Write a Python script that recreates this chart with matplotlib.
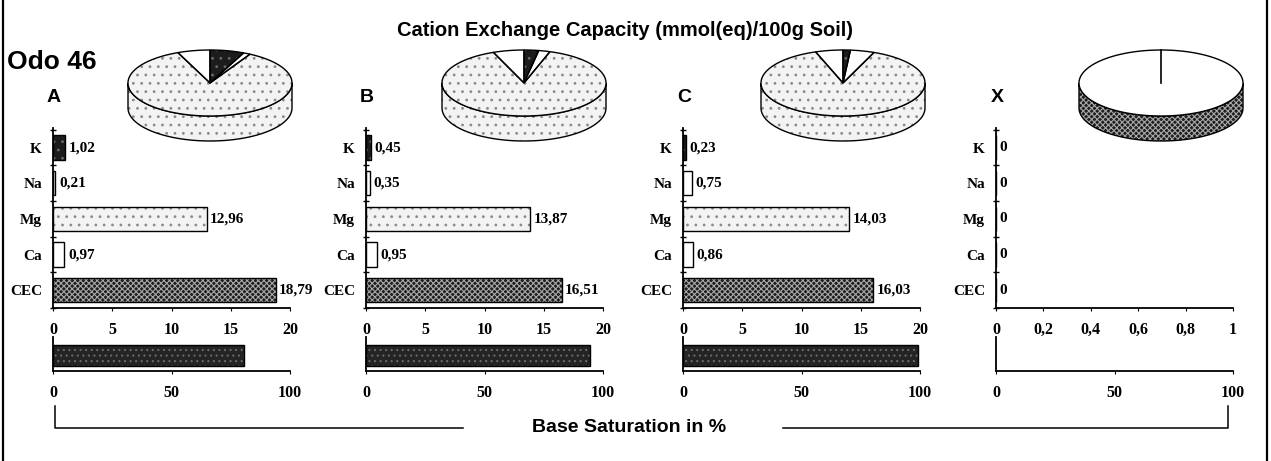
import numpy as np
import matplotlib.pyplot as plt
from matplotlib.patches import Polygon
from matplotlib.lines import Line2D

W, H = 1271, 461

# cation values per sample (mmol(eq)/100g soil)
panels = ['A', 'B', 'C', 'X']
cations = ['K', 'Na', 'Mg', 'Ca', 'CEC']
k_vals = [1.02, 0.45, 0.23, 0]
na_vals = [0.21, 0.35, 0.75, 0]
mg_vals = [12.96, 13.87, 14.03, 0]
ca_vals = [0.97, 0.95, 0.86, 0]
cec_vals = [18.79, 16.51, 16.03, 0]
base_sat = [80.7, 94.6, 99.0, 0]          # base saturation in %
x_max = [20, 20, 20, 1]
x_ticks = [[0, 5, 10, 15, 20]] * 3 + [[0, 0.2, 0.4, 0.6, 0.8, 1]]

# fill styles: face colour, hatch, hatch colour
styles = {
    'K':   ('#1c1c1c', '..', '#6a6a6a'),
    'Na':  ('white', None, 'black'),
    'Mg':  ('#f3f3f3', '..', '#8a8a8a'),
    'Ca':  ('white', None, 'black'),
    'CEC': ('#1e1e1e', 'xxxxxx', '#a8a8a8'),
    'BS':  ('#242424', '...', '#6a6a6a'),
}

serif = {'family': 'Liberation Serif', 'weight': 'bold'}
sans = {'family': 'Liberation Sans', 'weight': 'bold'}
plt.rcParams['hatch.linewidth'] = 0.8

lefts = [53, 366, 683, 996]
pie_cx = [210, 524, 843, 1161]
AX_W = 237


def px_axes(fig, x0, y0, x1, y1):
    # axes placed by pixel box (top-left origin)
    return fig.add_axes([x0 / W, 1 - y1 / H, (x1 - x0) / W, (y1 - y0) / H])


def fmt(v):
    if v == 0:
        return '0'
    return f'{v:.2f}'.replace('.', ',')


def tick_fmt(v):
    return f'{v:g}'.replace('.', ',')


def add_poly(ax, pts, key, z=2):
    fc, hatch, hc = styles[key]
    ax.add_patch(Polygon(pts, closed=True, facecolor=fc, hatch=hatch,
                         edgecolor=hc, linewidth=0, zorder=z))
    ax.add_patch(Polygon(pts, closed=True, fill=False, edgecolor='black',
                         linewidth=1.0, zorder=z + 0.5))


def draw_pie(ax, vals, names):
    rx, ry, d = 82, 33, 25
    total = sum(vals)
    t = np.linspace(90, 270, 80)
    if total == 0:
        # empty sample: plain top with hatched rim
        rad = np.radians(t)
        top = np.c_[rx * np.sin(rad), ry * np.cos(rad)]
        bot = np.c_[rx * np.sin(rad), ry * np.cos(rad) - d][::-1]
        add_poly(ax, np.vstack([top, bot]), 'CEC')
        full = np.radians(np.linspace(0, 360, 200))
        ax.add_patch(Polygon(np.c_[rx * np.sin(full), ry * np.cos(full)],
                             facecolor='white', edgecolor='black', lw=1.0, zorder=3))
        ax.plot([0, 0], [0, ry], color='black', lw=1.2, zorder=4)
        return
    bounds = np.concatenate([[0], np.cumsum(vals) / total * 360])
    for a, b, name in zip(bounds[:-1], bounds[1:], names):
        lo, hi = max(a, 90), min(b, 270)
        if hi > lo:
            rad = np.radians(np.linspace(lo, hi, 60))
            top = np.c_[rx * np.sin(rad), ry * np.cos(rad)]
            bot = np.c_[rx * np.sin(rad), ry * np.cos(rad) - d][::-1]
            add_poly(ax, np.vstack([top, bot]), name, z=2)
    for a, b, name in zip(bounds[:-1], bounds[1:], names):
        if b - a <= 0:
            continue
        rad = np.radians(np.linspace(a, b, max(int(b - a), 2) + 1))
        pts = np.vstack([[0, 0], np.c_[rx * np.sin(rad), ry * np.cos(rad)]])
        add_poly(ax, pts, name, z=4)


fig = plt.figure(figsize=(W / 100, H / 100), dpi=100)

# overlay for frame, headings and the base-saturation bracket
ov = fig.add_axes([0, 0, 1, 1], zorder=-1)
ov.set_xlim(0, W)
ov.set_ylim(H, 0)
ov.axis('off')
for x in (3, 1267):
    ov.add_line(Line2D([x, x], [0, H], color='black', lw=1.6))
ov.text(625, 30, 'Cation Exchange Capacity (mmol(eq)/100g Soil)', fontsize=14.5,
        ha='center', va='center', **sans)
ov.text(7, 62, 'Odo 46', fontsize=19, ha='left', va='center', **sans)
ov.text(629, 427, 'Base Saturation in %', fontsize=14, ha='center', va='center', **sans)
ov.add_line(Line2D([55, 55, 463], [406, 428, 428], color='black', lw=1.1))
ov.add_line(Line2D([783, 1228, 1228], [428, 428, 406], color='black', lw=1.1))

for i, p in enumerate(panels):
    x0 = lefts[i]
    ov.text(x0 + 1, 97, p, fontsize=14, ha='center', va='center', **sans)

    vals = [k_vals[i], na_vals[i], mg_vals[i], ca_vals[i], cec_vals[i]]
    ypos = np.arange(len(cations))[::-1]

    ax = px_axes(fig, x0, 128, x0 + AX_W, 308)
    for name, v, y in zip(cations, vals, ypos):
        fc, hatch, hc = styles[name]
        ax.barh(y, v, height=0.68, color=fc, hatch=hatch, edgecolor=hc, lw=0, zorder=2)
        ax.barh(y, v, height=0.68, fill=False, edgecolor='black', lw=1.0, zorder=3)
        ax.annotate(fmt(v), (v, y), xytext=(2.5, 0), textcoords='offset points',
                    va='center', ha='left', fontsize=11, **serif)
    ax.set_xlim(0, x_max[i])
    ax.set_ylim(-0.5, 4.55)
    ax.set_yticks(ypos)
    ax.set_yticklabels(cations, fontdict=serif, fontsize=11)
    ax.set_yticks(np.arange(-0.5, 5, 1), minor=True)
    ax.tick_params(axis='y', which='major', length=0, pad=8)
    ax.tick_params(axis='y', which='minor', length=4, direction='inout', width=1)
    ax.set_xticks(x_ticks[i])
    ax.set_xticklabels([tick_fmt(v) for v in x_ticks[i]], fontdict=serif, fontsize=11.5)
    ax.tick_params(axis='x', length=2, pad=8)
    for s in ('top', 'right'):
        ax.spines[s].set_visible(False)
    for s in ('left', 'bottom'):
        ax.spines[s].set_linewidth(1.3)
    ax.patch.set_alpha(0)

    bx = px_axes(fig, x0, 337, x0 + AX_W, 371)
    fc, hatch, hc = styles['BS']
    bx.barh(0, base_sat[i], height=0.6, color=fc, hatch=hatch, edgecolor=hc, lw=0, zorder=2)
    if base_sat[i] > 0:
        bx.barh(0, base_sat[i], height=0.6, fill=False, edgecolor='black', lw=1.0, zorder=3)
    bx.set_xlim(0, 100)
    bx.set_ylim(-0.45, 0.55)
    bx.set_yticks([])
    bx.set_xticks([0, 50, 100])
    bx.set_xticklabels(['0', '50', '100'], fontdict=serif, fontsize=11.5)
    bx.tick_params(axis='x', length=2, pad=8)
    for s in ('top', 'right'):
        bx.spines[s].set_visible(False)
    for s in ('left', 'bottom'):
        bx.spines[s].set_linewidth(1.3)
    bx.patch.set_alpha(0)

    cx = pie_cx[i]
    pa = px_axes(fig, cx - 90, 83 - 40, cx + 90, 83 + 60)
    pa.set_xlim(-90, 90)
    pa.set_ylim(-60, 40)
    pa.axis('off')
    draw_pie(pa, vals[:4], cations[:4])

fig.savefig('out.png', dpi=100)
